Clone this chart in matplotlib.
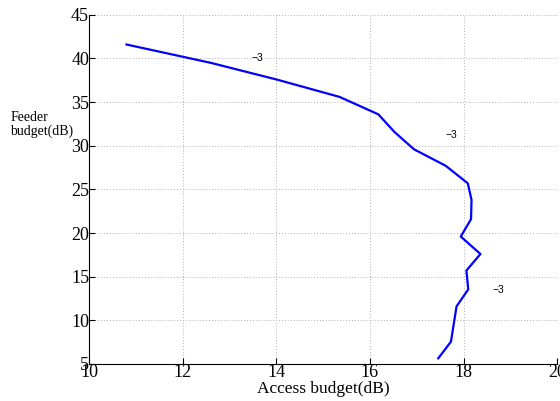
import matplotlib
matplotlib.use('Agg')
import matplotlib.pyplot as plt

# curve
access = [10.8, 12.6, 14.0, 15.35, 16.18, 16.52, 16.94, 17.62, 18.09, 18.17,
          18.16, 17.94, 18.36, 18.06, 18.10, 17.85, 17.73, 17.46]
feeder = [41.6, 39.5, 37.6, 35.6, 33.6, 31.6, 29.6, 27.7, 25.7, 23.8,
          21.6, 19.6, 17.6, 15.7, 13.55, 11.6, 7.55, 5.65]

# contour labels
label_x = [13.6, 17.75, 18.74]
label_y = [40.0, 31.2, 13.5]
label_txt = ['\u22123', '\u22123', '\u22123']

plt.rcParams['font.family'] = 'Liberation Serif'

fig = plt.figure(figsize=(5.6, 4.01), dpi=100)
ax = fig.add_axes([0.159, 0.0923, 0.836, 0.8707])

ax.plot(access, feeder, color='#0000ff', linewidth=1.6)
for x, y, t in zip(label_x, label_y, label_txt):
    ax.text(x, y, t, fontsize=7.5, family='Liberation Sans', ha='center', va='center')

ax.set_xlim(10, 20)
ax.set_ylim(5, 45)
ax.set_xticks([10, 12, 14, 16, 18, 20])
ax.set_yticks([5, 10, 15, 20, 25, 30, 35, 40, 45])
ax.tick_params(direction='in', labelsize=13, length=4, pad=0)
ax.grid(True, color='#b0b0b0', linestyle=(0, (1, 2)), linewidth=0.7)
ax.spines['top'].set_visible(False)
ax.spines['right'].set_visible(False)

ax.set_xlabel('Access budget(dB)', fontsize=12.5, labelpad=0)
fig.text(0.018, 0.69, 'Feeder\nbudget(dB)', fontsize=10, ha='left', va='center',
         linespacing=1.1)

fig.savefig('out.png', dpi=100)
